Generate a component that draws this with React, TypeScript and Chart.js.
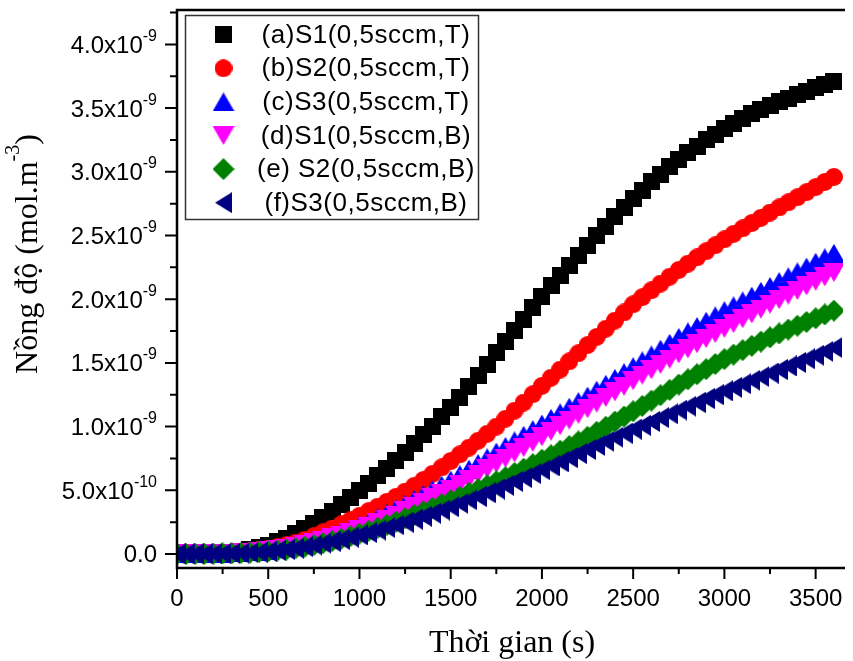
import React, { useEffect, useRef } from 'react';
import { Chart, registerables } from 'chart.js';

Chart.register(...registerables);

// Sampling times (s)
const TIME_S = [
  0, 50, 100, 150, 200, 250, 300, 350, 400, 450, 500,
  550, 600, 650, 700, 750, 800, 850, 900, 950, 1000,
  1050, 1100, 1150, 1200, 1250, 1300, 1350, 1400, 1450, 1500,
  1550, 1600, 1650, 1700, 1750, 1800, 1850, 1900, 1950, 2000,
  2050, 2100, 2150, 2200, 2250, 2300, 2350, 2400, 2450, 2500,
  2550, 2600, 2650, 2700, 2750, 2800, 2850, 2900, 2950, 3000,
  3050, 3100, 3150, 3200, 3250, 3300, 3350, 3400, 3450, 3500,
  3550, 3600,
];

// Concentrations in units of 1e-9 mol.m^-3
const S1_T = [
  0, 0, 0.001, 0.002, 0.004, 0.008, 0.014, 0.022, 0.033, 0.048, 0.068,
  0.095, 0.125, 0.16, 0.2, 0.24, 0.285, 0.335, 0.385, 0.44, 0.5,
  0.555, 0.613, 0.673, 0.735, 0.8, 0.866, 0.934, 1.004, 1.076, 1.15,
  1.23, 1.314, 1.4, 1.489, 1.58, 1.668, 1.756, 1.844, 1.932, 2.02,
  2.104, 2.186, 2.266, 2.344, 2.42, 2.497, 2.572, 2.646, 2.719, 2.79,
  2.856, 2.92, 2.982, 3.042, 3.1, 3.152, 3.202, 3.25, 3.296, 3.34,
  3.38, 3.418, 3.454, 3.488, 3.52, 3.55, 3.579, 3.607, 3.634, 3.66,
  3.685, 3.71,
];
const S2_T = [
  0, 0, 0.001, 0.002, 0.004, 0.007, 0.011, 0.016, 0.022, 0.03, 0.04,
  0.054, 0.07, 0.089, 0.112, 0.14, 0.17, 0.2, 0.232, 0.265, 0.3,
  0.336, 0.372, 0.41, 0.449, 0.49, 0.535, 0.581, 0.629, 0.679, 0.73,
  0.782, 0.835, 0.889, 0.944, 1.0, 1.062, 1.125, 1.189, 1.254, 1.32,
  1.384, 1.448, 1.512, 1.576, 1.64, 1.704, 1.768, 1.832, 1.896, 1.96,
  2.016, 2.07, 2.123, 2.177, 2.23, 2.279, 2.328, 2.376, 2.423, 2.47,
  2.513, 2.556, 2.598, 2.639, 2.68, 2.72, 2.76, 2.8, 2.84, 2.88,
  2.92, 2.96,
];
const S3_T = [
  0, 0, 0.001, 0.002, 0.003, 0.005, 0.008, 0.012, 0.017, 0.023, 0.03,
  0.04, 0.052, 0.066, 0.082, 0.1, 0.12, 0.142, 0.166, 0.192, 0.22,
  0.25, 0.283, 0.317, 0.353, 0.39, 0.427, 0.465, 0.503, 0.541, 0.58,
  0.623, 0.666, 0.71, 0.755, 0.8, 0.844, 0.888, 0.932, 0.976, 1.02,
  1.064, 1.108, 1.152, 1.196, 1.24, 1.286, 1.332, 1.378, 1.424, 1.47,
  1.516, 1.562, 1.608, 1.654, 1.7, 1.743, 1.785, 1.827, 1.869, 1.91,
  1.948, 1.986, 2.024, 2.062, 2.1, 2.138, 2.176, 2.214, 2.252, 2.29,
  2.325, 2.36,
];
const S1_B = [
  0, 0, 0.001, 0.002, 0.003, 0.004, 0.007, 0.01, 0.014, 0.019, 0.025,
  0.034, 0.045, 0.058, 0.073, 0.09, 0.107, 0.126, 0.146, 0.167, 0.19,
  0.216, 0.244, 0.274, 0.306, 0.34, 0.373, 0.406, 0.44, 0.475, 0.51,
  0.548, 0.587, 0.627, 0.668, 0.71, 0.751, 0.793, 0.835, 0.877, 0.92,
  0.963, 1.007, 1.051, 1.095, 1.14, 1.184, 1.228, 1.272, 1.316, 1.36,
  1.403, 1.445, 1.487, 1.529, 1.57, 1.61, 1.65, 1.69, 1.73, 1.77,
  1.808, 1.846, 1.884, 1.922, 1.96, 1.996, 2.032, 2.068, 2.104, 2.14,
  2.175, 2.21,
];
const S2_B = [
  0, 0, 0.001, 0.001, 0.002, 0.004, 0.006, 0.008, 0.011, 0.015, 0.02,
  0.027, 0.035, 0.045, 0.057, 0.07, 0.085, 0.101, 0.119, 0.139, 0.16,
  0.182, 0.205, 0.229, 0.254, 0.28, 0.307, 0.334, 0.362, 0.391, 0.42,
  0.449, 0.479, 0.509, 0.539, 0.57, 0.603, 0.636, 0.67, 0.705, 0.74,
  0.775, 0.811, 0.847, 0.883, 0.92, 0.959, 0.999, 1.039, 1.079, 1.12,
  1.162, 1.204, 1.246, 1.288, 1.33, 1.371, 1.411, 1.451, 1.491, 1.53,
  1.565, 1.6, 1.634, 1.667, 1.7, 1.731, 1.762, 1.792, 1.821, 1.85,
  1.88, 1.91,
];
const S3_B = [
  0, 0, 0.001, 0.001, 0.002, 0.003, 0.005, 0.007, 0.01, 0.014, 0.02,
  0.027, 0.035, 0.045, 0.057, 0.07, 0.084, 0.099, 0.115, 0.132, 0.15,
  0.168, 0.187, 0.207, 0.228, 0.25, 0.273, 0.296, 0.32, 0.345, 0.37,
  0.397, 0.424, 0.452, 0.481, 0.51, 0.539, 0.569, 0.599, 0.63, 0.66,
  0.692, 0.724, 0.756, 0.788, 0.82, 0.852, 0.884, 0.916, 0.948, 0.98,
  1.01, 1.04, 1.07, 1.1, 1.13, 1.16, 1.19, 1.22, 1.25, 1.28,
  1.308, 1.336, 1.364, 1.392, 1.42, 1.448, 1.476, 1.504, 1.532, 1.56,
  1.59, 1.62,
];

const SERIES = [S1_T, S2_T, S3_T, S1_B, S2_B, S3_B];
const SERIES_LABELS = [
  '(a)S1(0,5sccm,T)',
  '(b)S2(0,5sccm,T)',
  '(c)S3(0,5sccm,T)',
  '(d)S1(0,5sccm,B)',
  '(e) S2(0,5sccm,B)',
  '(f)S3(0,5sccm,B)',
];
const SERIES_COLORS = ['#000000', '#ff0000', '#0000ff', '#ff00ff', '#008000', '#000080'];
type Shape = 'square' | 'circle' | 'up' | 'down' | 'diamond' | 'left';
const SERIES_SHAPES: Shape[] = ['square', 'circle', 'up', 'down', 'diamond', 'left'];

// Axis ticks (y in 1e-9 mol.m^-3)
const X_MAJOR_TICKS = [0, 500, 1000, 1500, 2000, 2500, 3000, 3500];
const X_MINOR_TICKS = [250, 750, 1250, 1750, 2250, 2750, 3250];
const Y_MAJOR_TICKS = [0, 0.5, 1, 1.5, 2, 2.5, 3, 3.5, 4];
const Y_MINOR_TICKS = [0.25, 0.75, 1.25, 1.75, 2.25, 2.75, 3.25, 3.75, 4.25];
const Y_TICK_MANTISSAS = ['0.0', '5.0x10', '1.0x10', '1.5x10', '2.0x10', '2.5x10', '3.0x10', '3.5x10', '4.0x10'];
const Y_TICK_EXPONENTS = ['', '-10', '-9', '-9', '-9', '-9', '-9', '-9', '-9'];

const X_TITLE = 'Thời gian (s)';
const Y_TITLE_MAIN = 'Nồng độ (mol.m';
const Y_TITLE_SUP = '-3';
const Y_TITLE_END = ')';

const SANS = '"Liberation Sans", Arial, sans-serif';
const SERIF = '"Liberation Serif", "Times New Roman", serif';

function makeMarker(shape: Shape, color: string): HTMLCanvasElement {
  const dims: Record<Shape, [number, number]> = {
    square: [17, 17],
    circle: [18, 18],
    up: [22, 19],
    down: [22, 19],
    diamond: [22, 22],
    left: [17, 21],
  };
  const [w, h] = dims[shape];
  const c = document.createElement('canvas');
  c.width = w;
  c.height = h;
  const g = c.getContext('2d')!;
  g.fillStyle = color;
  g.beginPath();
  switch (shape) {
    case 'square':
      g.rect(0, 0, w, h);
      break;
    case 'circle':
      g.arc(w / 2, h / 2, w / 2, 0, Math.PI * 2);
      break;
    case 'up':
      g.moveTo(w / 2, 0);
      g.lineTo(w, h);
      g.lineTo(0, h);
      break;
    case 'down':
      g.moveTo(0, 0);
      g.lineTo(w, 0);
      g.lineTo(w / 2, h);
      break;
    case 'diamond':
      g.moveTo(w / 2, 0);
      g.lineTo(w, h / 2);
      g.lineTo(w / 2, h);
      g.lineTo(0, h / 2);
      break;
    case 'left':
      g.moveTo(w, 0);
      g.lineTo(w, h);
      g.lineTo(0, h / 2);
      break;
  }
  g.closePath();
  g.fill();
  return c;
}

const axesPlugin = {
  id: 'originAxes',
  afterDraw(chart: any) {
    const { ctx, chartArea: a, scales } = chart;
    const xs = scales.x;
    const ys = scales.y;
    ctx.save();
    ctx.strokeStyle = '#000';
    ctx.fillStyle = '#000';

    // frame: top, left, bottom
    ctx.lineWidth = 2.5;
    ctx.lineJoin = 'miter';
    ctx.beginPath();
    ctx.moveTo(a.right + 2, a.top);
    ctx.lineTo(a.left, a.top);
    ctx.lineTo(a.left, a.bottom);
    ctx.lineTo(a.right + 2, a.bottom);
    ctx.stroke();

    // tick marks
    ctx.lineWidth = 2;
    ctx.beginPath();
    X_MAJOR_TICKS.forEach((t) => {
      const px = xs.getPixelForValue(t);
      ctx.moveTo(px, a.bottom);
      ctx.lineTo(px, a.bottom + 11);
    });
    X_MINOR_TICKS.forEach((t) => {
      const px = xs.getPixelForValue(t);
      ctx.moveTo(px, a.bottom);
      ctx.lineTo(px, a.bottom + 6);
    });
    Y_MAJOR_TICKS.forEach((v) => {
      const py = ys.getPixelForValue(v);
      ctx.moveTo(a.left - 12, py);
      ctx.lineTo(a.left, py);
    });
    Y_MINOR_TICKS.forEach((v) => {
      if (v > ys.max) return;
      const py = ys.getPixelForValue(v);
      ctx.moveTo(a.left - 7, py);
      ctx.lineTo(a.left, py);
    });
    ctx.stroke();

    // x tick labels
    ctx.font = `24px ${SANS}`;
    ctx.textAlign = 'center';
    ctx.textBaseline = 'alphabetic';
    X_MAJOR_TICKS.forEach((t) => {
      ctx.fillText(String(t), xs.getPixelForValue(t), a.bottom + 38);
    });

    // y tick labels with superscript exponents
    ctx.textAlign = 'left';
    const rightEdge = a.left - 20;
    Y_MAJOR_TICKS.forEach((v, i) => {
      const py = ys.getPixelForValue(v);
      const main = Y_TICK_MANTISSAS[i];
      const sup = Y_TICK_EXPONENTS[i];
      ctx.font = `24px ${SANS}`;
      const mw = ctx.measureText(main).width;
      ctx.font = `16px ${SANS}`;
      const sw = sup ? ctx.measureText(sup).width : 0;
      const x0 = rightEdge - mw - sw;
      ctx.font = `24px ${SANS}`;
      ctx.fillText(main, x0, py + 8.5);
      if (sup) {
        ctx.font = `16px ${SANS}`;
        ctx.fillText(sup, x0 + mw, py - 3.5);
      }
    });

    // x title
    ctx.font = `32px ${SERIF}`;
    ctx.textAlign = 'center';
    ctx.fillText(X_TITLE, (a.left + a.right) / 2 + 2, a.bottom + 84);

    // y title (rotated, with superscript)
    ctx.save();
    ctx.translate(37, 254);
    ctx.rotate(-Math.PI / 2);
    ctx.textAlign = 'left';
    ctx.font = `32px ${SERIF}`;
    const w1 = ctx.measureText(Y_TITLE_MAIN).width;
    const w3 = ctx.measureText(Y_TITLE_END).width;
    ctx.font = `20px ${SERIF}`;
    const w2 = ctx.measureText(Y_TITLE_SUP).width;
    let cx = -(w1 + w2 + w3) / 2;
    ctx.font = `32px ${SERIF}`;
    ctx.fillText(Y_TITLE_MAIN, cx, 0);
    cx += w1;
    ctx.font = `20px ${SERIF}`;
    ctx.fillText(Y_TITLE_SUP, cx, -18);
    cx += w2;
    ctx.font = `32px ${SERIF}`;
    ctx.fillText(Y_TITLE_END, cx, 0);
    ctx.restore();

    ctx.restore();
  },
};

const legendPlugin = {
  id: 'insideLegend',
  afterDraw(chart: any) {
    const { ctx } = chart;
    const datasets = chart.data.datasets;
    const box = { x: 185.5, y: 15.5, w: 293, h: 204 };
    ctx.save();
    ctx.strokeStyle = '#333';
    ctx.lineWidth = 1.5;
    ctx.strokeRect(box.x, box.y, box.w, box.h);
    ctx.font = `26px ${SANS}`;
    (ctx as any).letterSpacing = '0.5px';
    ctx.fillStyle = '#000';
    ctx.textAlign = 'center';
    ctx.textBaseline = 'middle';
    datasets.forEach((ds: any, i: number) => {
      const cy = 34.7 + i * 33.6;
      const img = ds.pointStyle as HTMLCanvasElement;
      ctx.drawImage(img, 223.5 - img.width / 2, cy - img.height / 2);
      ctx.fillText(ds.label, 366, cy + 1);
    });
    ctx.restore();
  },
};

export default function App() {
  const canvasRef = useRef<HTMLCanvasElement | null>(null);

  useEffect(() => {
    const canvas = canvasRef.current;
    if (!canvas) return;
    const datasets = SERIES.map((vals, i) => {
      const marker = makeMarker(SERIES_SHAPES[i], SERIES_COLORS[i]);
      return {
        label: SERIES_LABELS[i],
        data: TIME_S.map((t, k) => ({ x: t, y: vals[k] })),
        pointStyle: marker,
        pointRadius: 9,
        pointHoverRadius: 9,
        showLine: false,
        backgroundColor: SERIES_COLORS[i],
        borderColor: SERIES_COLORS[i],
        order: SERIES.length - i,
        clip: 0,
      };
    });
    const chart = new Chart(canvas, {
      type: 'scatter',
      data: { datasets },
      options: {
        animation: false,
        responsive: false,
        maintainAspectRatio: false,
        events: [],
        layout: { padding: { left: 177, top: 5, right: 0, bottom: 93 } },
        plugins: {
          legend: { display: false },
          tooltip: { enabled: false },
        },
        scales: {
          x: { type: 'linear', display: false, min: 0, max: 3650 },
          y: { type: 'linear', display: false, min: -0.11, max: 4.27 },
        },
      },
      plugins: [axesPlugin, legendPlugin],
    } as any);
    return () => chart.destroy();
  }, []);

  return (
    <div style={{ position: 'absolute', left: 0, top: 0, width: 853, height: 661, background: '#fff' }}>
      <canvas ref={canvasRef} width={853} height={661} style={{ display: 'block', width: 853, height: 661 }} />
    </div>
  );
}
